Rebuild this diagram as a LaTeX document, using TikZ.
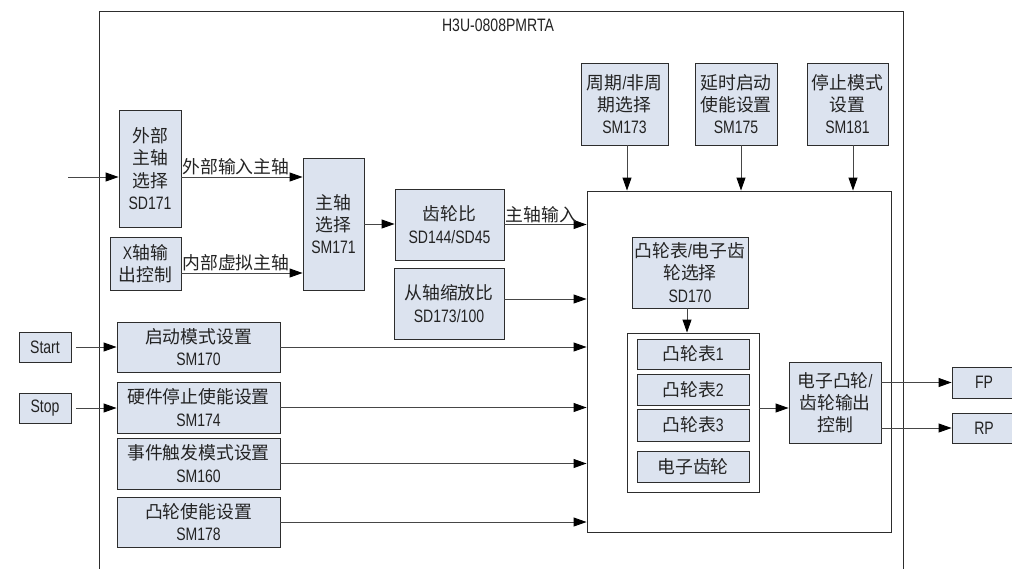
\documentclass[tikz,border=0pt]{standalone}
\usepackage{fontspec}
\setmainfont{Liberation Sans}[FakeStretch=0.78]
\newfontfamily\cjk{Noto Sans CJK SC}[Scale=0.99]
\usetikzlibrary{arrows.meta,calc}
\definecolor{boxfill}{RGB}{220,227,239}
\definecolor{edge}{RGB}{45,45,45}
\definecolor{wire}{RGB}{70,70,70}
\definecolor{txt}{RGB}{35,35,35}
\newcommand\z[1]{{\cjk #1}}
\begin{document}
\begin{tikzpicture}[x=1pt,y=-1pt,
  every node/.style={font=\fontsize{18}{22.2}\selectfont, text=txt},
  box/.style={draw=edge, fill=boxfill, line width=0.9pt, inner sep=0pt, align=center},
  plainbox/.style={draw=edge, fill=white, line width=0.9pt, inner sep=0pt},
  arr/.style={draw=wire, line width=0.9pt, -{Triangle[length=13pt,width=9pt,color=black]}},
  lbl/.style={inner sep=1.5pt},
  frame/.style={draw=edge, line width=1pt}]
\useasboundingbox (0,0) rectangle (1012,568);
% outer frame
\draw[frame] (99,570) -- (99,11) -- (903,11) -- (903,570);
\node (title) at (498,25) {H3U-0808PMRTA};

% left column
\node[box, minimum width=62pt, minimum height=117pt] (sd171) at (150,168.5) {\z{外部}\\\z{主轴}\\\z{选择}\\SD171};
\node[box, minimum width=71pt, minimum height=53pt] (xout) at (145.5,263.5) {X\z{轴输}\\\z{出控制}};
\node[box, minimum width=61pt, minimum height=132pt] (sm171) at (333.5,224) {\z{主轴}\\\z{选择}\\SM171};
\node[box, minimum width=109pt, minimum height=71pt] (gear) at (449.5,224.5) {\z{齿轮比}\\SD144/SD45};
\node[box, minimum width=110pt, minimum height=71pt] (slave) at (449,303.5) {\z{从轴缩放比}\\SD173/100};

\node[box, minimum width=52pt, minimum height=30pt] (start) at (45,347) {Start};
\node[box, minimum width=52pt, minimum height=30pt] (stop) at (45,408) {Stop};
\node[box, minimum width=163pt, minimum height=50pt] (sm170) at (198.5,347) {\z{启动模式设置}\\SM170};
\node[box, minimum width=163pt, minimum height=51pt] (sm174) at (198.5,407.5) {\z{硬件停止使能设置}\\SM174};
\node[box, minimum width=163pt, minimum height=51pt] (sm160) at (198.5,463.5) {\z{事件触发模式设置}\\SM160};
\node[box, minimum width=163pt, minimum height=50pt] (sm178) at (198.5,522) {\z{凸轮使能设置}\\SM178};

% big block
\node[plainbox, minimum width=304pt, minimum height=341pt] (big) at (739,361.5) {};
\node[box, minimum width=87pt, minimum height=82pt] (top1) at (624.5,104) {\z{周期}/\z{非周}\\\z{期选择}\\SM173};
\node[box, minimum width=82pt, minimum height=82pt] (top2) at (736,104) {\z{延时启动}\\\z{使能设置}\\SM175};
\node[box, minimum width=81pt, minimum height=82pt] (top3) at (847.5,104) {\z{停止模式}\\\z{设置}\\SM181};
\node[box, minimum width=116pt, minimum height=71pt] (sd170) at (690,272.5) {\z{凸轮表}/\z{电子齿}\\\z{轮选择}\\SD170};
\node[plainbox, minimum width=132pt, minimum height=159pt] (cont) at (693,412.5) {};
\node[box, minimum width=112pt, minimum height=30pt] (cam1) at (693,354) {\z{凸轮表}1};
\node[box, minimum width=112pt, minimum height=31pt] (cam2) at (693,389.5) {\z{凸轮表}2};
\node[box, minimum width=112pt, minimum height=32pt] (cam3) at (693,425) {\z{凸轮表}3};
\node[box, minimum width=112pt, minimum height=31pt] (egear) at (693,466.5) {\z{电子齿轮}};
\node[box, minimum width=92pt, minimum height=81pt] (ctrl) at (835,402.5) {\z{电子凸轮}/\\\z{齿轮输出}\\\z{控制}};
\node[box, minimum width=64pt, minimum height=31pt] (fp) at (984,382.5) {FP};
\node[box, minimum width=64pt, minimum height=30pt] (rp) at (984,428) {RP};

% connectors
\coordinate (in) at (68,177);
\draw[arr] (in) -- (in -| sd171.west);
\draw[arr] (in -| sd171.east) -- node[lbl, above, pos=0.45]{\z{外部输入主轴}} (in -| sm171.west);
\draw[arr] ([yshift=-9.5pt]xout.east) -- node[lbl, above, pos=0.45]{\z{内部虚拟主轴}} ([yshift=-9.5pt]xout.east -| sm171.west);
\draw[arr] (sm171.east) -- (sm171.east -| gear.west);
\draw[arr] (gear.east) -- node[lbl, above, pos=0.45]{\z{主轴输入}} (gear.east -| big.west);
\draw[arr] ([yshift=4.5pt]slave.east) -- ([yshift=4.5pt]slave.east -| big.west);

\draw[arr] ([xshift=5pt]start.east) -- (sm170.west);
\draw[arr] ([xshift=5pt]stop.east) -- (stop.east -| sm174.west);
\draw[arr] (sm170.east) -- (sm170.east -| big.west);
\draw[arr] (sm174.east) -- (sm174.east -| big.west);
\draw[arr] (sm160.east) -- (sm160.east -| big.west);
\draw[arr] (sm178.east) -- (sm178.east -| big.west);

\draw[arr] ([xshift=2.5pt]top1.south) -- ([xshift=2.5pt]top1.south |- big.north);
\draw[arr] ([xshift=5pt]top2.south) -- ([xshift=5pt]top2.south |- big.north);
\draw[arr] ([xshift=5.5pt]top3.south) -- ([xshift=5.5pt]top3.south |- big.north);
\draw[arr] ([xshift=-3pt]sd170.south) -- ([xshift=-3pt]sd170.south |- cont.north);
\draw[arr] ([yshift=4.5pt]cont.east) -- ([yshift=4.5pt]cont.east -| ctrl.west);
\draw[arr] (ctrl.east |- fp) -- (fp.west);
\draw[arr] (ctrl.east |- rp) -- (rp.west);
\end{tikzpicture}
\end{document}
